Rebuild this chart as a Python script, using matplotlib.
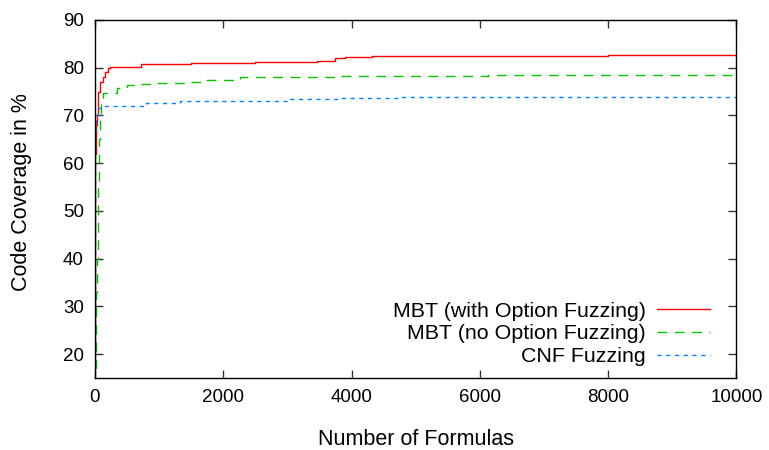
import matplotlib
matplotlib.use("Agg")
import matplotlib.pyplot as plt

plt.rcParams["font.family"] = ["Liberation Sans", "DejaVu Sans"]

# MBT with option fuzzing
red_x = [0, 5, 10, 20, 30, 40, 50, 80, 130, 155, 210, 235, 713, 1500,
         2500, 3460, 3745, 3900, 4320, 5660, 8000, 9950, 10000]
red_y = [20, 62, 64, 68, 70, 72, 75, 77.1, 78.1, 79.2, 79.9, 80.2, 80.7, 80.9,
         81.1, 81.5, 82.0, 82.25, 82.4, 82.5, 82.6, 82.75, 82.75]

# MBT without option fuzzing
green_x = [0, 10, 20, 30, 45, 60, 80, 100, 130, 340, 495, 700, 905, 1480,
           1690, 2260, 3000, 3770, 6130, 10000]
green_y = [17, 25, 33, 40, 55, 65, 70, 73.3, 74.7, 75.7, 76.4, 76.5, 76.7,
           77.0, 77.4, 78.0, 78.1, 78.2, 78.5, 78.6]

# CNF fuzzing
blue_x = [0, 5, 20, 50, 100, 800, 1330, 3040, 3770, 4760, 10000]
blue_y = [17, 67, 70.1, 71.5, 71.9, 72.6, 73.1, 73.5, 73.6, 73.8, 73.95]

labels = ["MBT (with Option Fuzzing)", "MBT (no Option Fuzzing)", "CNF Fuzzing"]

fig = plt.figure(figsize=(7.69, 4.5), dpi=100)
ax = fig.add_axes([0.1235, 0.16, 0.834, 0.7956])

ax.plot(red_x, red_y, color="#ff0000", linewidth=1.0, drawstyle="steps-post",
        label=labels[0])
ax.plot(green_x, green_y, color="#00c000", linewidth=1.0, drawstyle="steps-post",
        linestyle=(0, (7, 5.5)), label=labels[1])
ax.plot(blue_x, blue_y, color="#0080ff", linewidth=1.0, drawstyle="steps-post",
        linestyle=(0, (3, 3.3)), label=labels[2])

ax.set_xlim(0, 10000)
ax.set_ylim(15, 90)
ax.set_xticks(range(0, 10001, 2000))
ax.set_yticks(range(20, 91, 10))
ax.tick_params(direction="in", length=6, width=1, top=True, right=True,
               labelsize=13.5, pad=8, color="#333333")
for s in ax.spines.values():
    s.set_linewidth(1.0)

ax.set_xlabel("Number of Formulas", fontsize=15.5)
ax.set_ylabel("Code Coverage in %", fontsize=15.5)
ax.xaxis.set_label_coords(0.5, -0.143)
ax.yaxis.set_label_coords(-0.098, 0.518)

leg = ax.legend(loc="lower right", frameon=False, markerfirst=False,
                fontsize=15.4, handlelength=2.5, handletextpad=0.5,
                labelspacing=0.18, borderpad=0.0,
                bbox_to_anchor=(0.976, 0.003))
for t in leg.get_texts():
    t.set_ha("right")

fig.savefig("out.png", dpi=100)
